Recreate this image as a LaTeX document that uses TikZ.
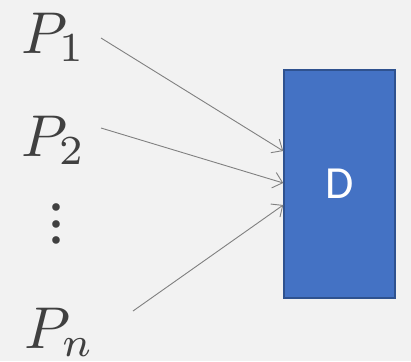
\documentclass[tikz,border=0pt]{standalone}
\usepackage{fontspec}
\setsansfont{Carlito}
\usetikzlibrary{arrows.meta}
\definecolor{bg}{HTML}{F2F2F2}
\definecolor{boxfill}{HTML}{4472C4}
\definecolor{boxline}{HTML}{2F528F}
\definecolor{wire}{HTML}{808080}
\definecolor{ink}{HTML}{404040}
\newcommand{\biglabel}[1]{\scalebox{5.9}{$#1$}}
\begin{document}
\begin{tikzpicture}[x=1pt,y=-1pt,
  lbl/.style={inner sep=0pt,anchor=base west,text=ink},
  blk/.style={draw=boxline,line width=1.5pt,fill=boxfill,minimum width=111pt,minimum height=228pt,inner sep=0pt,
              text=white,font=\sffamily\fontsize{46}{50}\selectfont},
  wirearrow/.style={draw=wire,line width=0.9pt,-{Straight Barb[length=9pt,width=16pt,line width=0.9pt]}}]
  \fill[bg] (0,0) rectangle (411,361);
  \useasboundingbox (0,0) rectangle (411,361);
  % sources
  \node[lbl] (p1) at (21,53) {\biglabel{P_1}};
  \node[lbl] (p2) at (21,156) {\biglabel{P_2}};
  \node[lbl] (pn) at (24,348) {\biglabel{P_n}};
  \node[inner sep=0pt,text=ink,align=center,font=\fontsize{34}{16.5}\selectfont] (dots) at (56,227)
    {\textbullet\\\textbullet\\\textbullet};
  % destination
  \node[blk] (d) at (339.5,184) {D};
  % wire start points
  \coordinate (s1) at (101,38);
  \coordinate (s2) at (101,128);
  \coordinate (sn) at (133,311);
  \draw[wirearrow] (s1) -- ([yshift=33pt]d.west);
  \draw[wirearrow] (s2) -- ([yshift=1pt]d.west);
  \draw[wirearrow] (sn) -- ([yshift=-21pt]d.west);
\end{tikzpicture}
\end{document}
